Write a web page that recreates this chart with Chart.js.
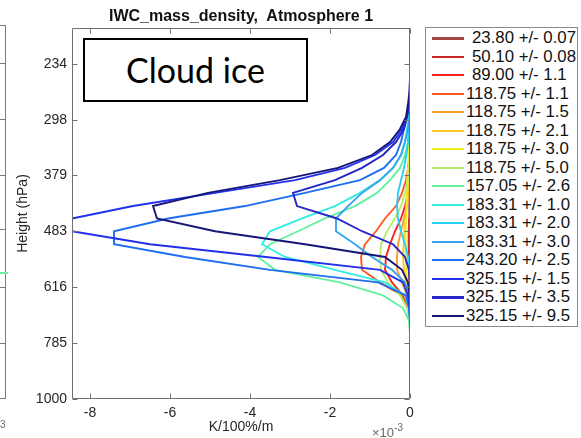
<!DOCTYPE html>
<html>
<head>
<meta charset="utf-8">
<script src="https://cdn.jsdelivr.net/npm/chart.js@4/dist/chart.umd.min.js"></script>
<style>
  html, body { margin: 0; padding: 0; background: #fff; }
  body { width: 581px; height: 438px; position: relative; overflow: hidden; font-family: 'Liberation Sans', Arial, sans-serif; }
  #c { position: absolute; left: 0; top: 0; }
  .abs { position: absolute; white-space: pre; }
  #title { left: 0; width: 482px; top: 7px; text-align: center; font-weight: bold; font-size: 16px; line-height: 18px; color: #111; }
  #expo { left: 372px; top: 421px; font-size: 13px; line-height: 16px; color: #6a6a6a; }
  #expo sup { font-size: 10px; position: relative; top: -1px; }
  #cloud { left: 83px; top: 38px; width: 221px; height: 60px; border: 2px solid #000; background: #fff;
           font-family: Lato, 'Open Sans', sans-serif; font-size: 34px; line-height: 60px; text-align: center; color: #000; }
  #legend { left: 425px; top: 27px; width: 151px; height: 297px; border: 1px solid #8a8a8a; background: #fff; padding-top: 1px; }
  .row { position: relative; height: 18.5px; }
  .row .ln { position: absolute; left: 6px; width: 32px; top: 8.25px; height: 2px; }
  .row .tx { position: absolute; left: 40px; top: 0; font-size: 16.8px; line-height: 18.5px; color: #111; }
  #prev { left: -20px; top: 25px; width: 24px; height: 372px; border: 1px solid #7a7a7a; }
</style>
</head>
<body>
<canvas id="c" width="581" height="438"></canvas>
<div class="abs" id="prev"></div>
<div class="abs" style="left:0;top:272px;width:8px;height:2px;background:#6ff0a8;"></div>
<div class="abs" style="left:0;top:419px;font-size:10px;line-height:12px;color:#6a6a6a;">3</div>
<div class="abs" id="title">IWC_mass_density,  Atmosphere 1</div>
<div class="abs" id="cloud">Cloud ice</div>
<div class="abs" id="expo">×10<sup>-3</sup></div>
<div class="abs" id="legend"></div>
<script>
// ---- Data (x values in units of 1e-3 K/100%/m) ----
const pressure = [993, 940, 889, 841, 796, 753, 712, 674, 638, 603, 571, 540, 511, 483, 457, 433, 409, 387, 367, 347, 328, 310, 294, 278, 263, 249, 235, 223, 211, 199];

const centerFreqs = ['23.80', '50.10', '89.00', '118.75', '118.75', '118.75', '118.75', '118.75', '157.05', '183.31', '183.31', '183.31', '243.20', '325.15', '325.15', '325.15'];
const offsets     = ['0.07', '0.08', '1.1', '1.1', '1.5', '2.1', '3.0', '5.0', '2.6', '1.0', '2.0', '3.0', '2.5', '1.5', '3.5', '9.5'];

const ch23_80   = [0,0,0,0,0,0,0,0,-0.005,-0.01,-0.015,-0.02,-0.02,-0.015,-0.01,-0.005,0,0,0,0,0,0,0,0,0,0,0,0,0,0];
const ch50_10   = [0,0,0,0,0,0,0,-0.005,-0.01,-0.02,-0.03,-0.035,-0.035,-0.03,-0.02,-0.01,-0.005,0,0,0,0,0,0,0,0,0,0,0,0,0];
const ch89_00   = [0,0,0,0,0,0,0,-0.05,-0.175,-0.45,-0.625,-0.6,-0.5,-0.375,-0.225,-0.125,-0.05,-0.01,0,0,0,0,0,0,0,0,0,0,0,0];
const ch118_11  = [0,0,0,0,0,0,0,-0.05,-0.2,-0.75,-1.2,-1.225,-1.125,-0.85,-0.625,-0.35,-0.2,-0.1,-0.05,-0.01,0,0,0,0,0,0,0,0,0,0];
const ch118_15  = [0,0,0,0,0,0,0,-0.01,-0.075,-0.2,-0.325,-0.325,-0.3,-0.225,-0.15,-0.075,-0.025,0,0,0,0,0,0,0,0,0,0,0,0,0];
const ch118_21  = [0,0,0,0,0,0,0,0,-0.025,-0.1,-0.15,-0.175,-0.16,-0.14,-0.11,-0.09,-0.06,-0.04,-0.01,0,0,0,0,0,0,0,0,0,0,0];
const ch118_30  = [0,0,0,0,0,0,0,0,-0.02,-0.06,-0.1,-0.11,-0.11,-0.11,-0.1,-0.09,-0.08,-0.07,-0.05,-0.04,-0.03,-0.02,-0.01,0,0,0,0,0,0,0];
const ch118_50  = [0,0,0,0,0,0,-0.01,-0.075,-0.25,-0.55,-0.725,-0.75,-0.725,-0.575,-0.375,-0.225,-0.125,-0.05,-0.01,0,0,0,0,0,0,0,0,0,0,0];
const ch157_26  = [0,0,0,0,0,0,-0.025,-0.175,-0.675,-1.75,-3.375,-3.8,-3.5,-2.8,-2.125,-1.375,-0.825,-0.5,-0.25,-0.125,-0.05,-0.01,0,0,0,0,0,0,0,0];
const ch183_10  = [0,0,0,0,0,0,0,-0.025,-0.125,-0.625,-1.875,-3.125,-3.7,-3.5,-2.7,-1.875,-1.25,-0.75,-0.425,-0.225,-0.125,-0.075,-0.025,0,0,0,0,0,0,0];
const ch183_20  = [0,0,0,0,0,0,0,0,0,0,-0.01,-0.05,-0.125,-0.225,-0.3,-0.325,-0.3,-0.225,-0.15,-0.09,-0.05,-0.025,-0.01,0,0,0,0,0,0,0];
const ch183_30  = [0,0,0,0,0,0,0,0,-0.025,-0.125,-0.45,-0.95,-1.375,-1.85,-1.85,-1.55,-1.2,-0.75,-0.425,-0.225,-0.125,-0.05,-0.01,0,0,0,0,0,0,0];
const ch243_25  = [0,0,0,0,0,0,0,-0.025,-0.1,-0.8,-3.5,-5.625,-7.4,-7.4,-6.05,-4.125,-2.625,-1.25,-0.65,-0.35,-0.225,-0.15,-0.075,-0.025,0,0,0,0,0,0];
const ch325_15  = [0,0,0,0,0,0,0,-0.01,-0.05,-0.175,-0.75,-3.6,-6.5,-8.45,-8.45,-6.925,-4.875,-2.875,-1.625,-0.875,-0.425,-0.2,-0.075,-0.025,-0.01,0,0,0,0,0];
const ch325_35  = [0,0,0,0,0,0,0,0,0,0,-0.025,-0.125,-0.425,-1.2,-1.825,-2.825,-2.925,-1.875,-1.2,-0.675,-0.35,-0.15,-0.075,-0.025,0,0,0,0,0,0];
const ch325_95  = [0,0,0,0,0,0,0,0,-0.01,-0.05,-0.2,-0.625,-2.625,-4.875,-6.325,-6.425,-5.05,-3.25,-1.8,-0.95,-0.5,-0.25,-0.1,-0.05,-0.01,0,0,0,0,0];

const xTicks = [-8, -6, -4, -2, 0];
const yTicks = [1000, 785, 616, 483, 379, 298, 234];

const series = [ch23_80, ch50_10, ch89_00, ch118_11, ch118_15, ch118_21, ch118_30, ch118_50,
                ch157_26, ch183_10, ch183_20, ch183_30, ch243_25, ch325_15, ch325_35, ch325_95];
const colors = ['#A04545', '#C82828', '#FF2020', '#FF5A1E', '#FF9A30', '#FFC828', '#EEEE1E', '#B4F068',
                '#64F0A0', '#30EEE0', '#28D0F8', '#35A5F0', '#1E6EF0', '#2230EC', '#2525C8', '#161678'];
const legendWidths = [3, 2, 2, 2, 2, 2, 2, 2, 2, 2, 2, 2, 2, 2, 3, 2];

const labels = centerFreqs.map((f, i) => f + ' +/- ' + offsets[i]);

// ---- Legend (HTML) ----
const leg = document.getElementById('legend');
labels.forEach((lab, i) => {
  const r = document.createElement('div'); r.className = 'row';
  const l = document.createElement('div'); l.className = 'ln';
  l.style.background = colors[i]; l.style.height = legendWidths[i] + 'px';
  l.style.top = (9.25 - legendWidths[i] / 2) + 'px';
  const t = document.createElement('div'); t.className = 'tx'; t.textContent = lab;
  if (centerFreqs[i].length < 6) t.style.left = '46px';
  r.appendChild(l); r.appendChild(t); leg.appendChild(r);
});

// previous panel ticks
[63, 119, 175, 229, 287, 343].forEach(y => {
  const d = document.createElement('div');
  d.style.cssText = 'position:absolute;left:0;width:5px;height:1px;background:#7a7a7a;top:' + y + 'px';
  document.body.appendChild(d);
});

// ---- Chart ----
Chart.defaults.font.family = "'Liberation Sans', Arial, sans-serif";

const datasets = series.map((vals, i) => ({
  label: labels[i],
  data: vals.map((v, k) => ({ x: v, y: pressure[k] })),
  showLine: true,
  borderColor: colors[i],
  backgroundColor: colors[i],
  borderWidth: 1.9,
  pointRadius: 0,
  pointHoverRadius: 0,
  tension: 0,
  order: series.length - i
}));

const frame = {
  id: 'frame',
  afterDatasetsDraw(chart) {
    const { ctx, chartArea: a, scales: { x, y } } = chart;
    ctx.save();
    ctx.strokeStyle = '#707070';
    ctx.lineWidth = 1;
    const L = Math.round(a.left) + 0.5, R = Math.round(a.right) - 0.5;
    const T = Math.round(a.top) + 0.5, B = Math.round(a.bottom) - 0.5;
    ctx.beginPath();
    ctx.rect(L, T, R - L, B - T);
    const tl = 5;
    xTicks.forEach(v => {
      const px = Math.round(x.getPixelForValue(v)) + 0.5;
      ctx.moveTo(px, B); ctx.lineTo(px, B - tl);
      ctx.moveTo(px, T); ctx.lineTo(px, T + tl);
    });
    yTicks.forEach(v => {
      const py = Math.round(y.getPixelForValue(v)) + 0.5;
      ctx.moveTo(L, py); ctx.lineTo(L + tl, py);
      ctx.moveTo(R, py); ctx.lineTo(R - tl, py);
    });
    ctx.stroke();
    ctx.restore();
  }
};

new Chart(document.getElementById('c').getContext('2d'), {
  type: 'scatter',
  data: { datasets },
  options: {
    responsive: false,
    animation: false,
    devicePixelRatio: 1,
    events: [],
    layout: { padding: { left: 0, right: 171, top: 28, bottom: 0 } },
    plugins: { legend: { display: false }, tooltip: { enabled: false }, title: { display: false } },
    scales: {
      x: {
        type: 'linear', min: -8.45, max: 0,
        afterBuildTicks: s => { s.ticks = xTicks.map(v => ({ value: v })); },
        afterFit: s => { s.height = 39; },
        grid: { display: false, drawTicks: false },
        border: { display: false },
        ticks: { padding: 6, autoSkip: false, maxRotation: 0, color: '#262626', font: { size: 14 },
                 callback: v => String(v) },
        title: { display: true, text: 'K/100%/m', color: '#262626', font: { size: 14 }, padding: { top: 0, bottom: 2 } }
      },
      y: {
        type: 'logarithmic', reverse: true, min: 200, max: 1000,
        afterBuildTicks: s => { s.ticks = yTicks.map(v => ({ value: v })); },
        afterFit: s => { s.width = 72; },
        grid: { display: false, drawTicks: false },
        border: { display: false },
        ticks: { padding: 5, autoSkip: false, color: '#262626', font: { size: 14 },
                 callback: v => String(v) },
        title: { display: true, text: 'Height (hPa)', color: '#262626', font: { size: 14 }, padding: { top: 15, bottom: 0 } }
      }
    }
  },
  plugins: [frame]
});
</script>
</body>
</html>
